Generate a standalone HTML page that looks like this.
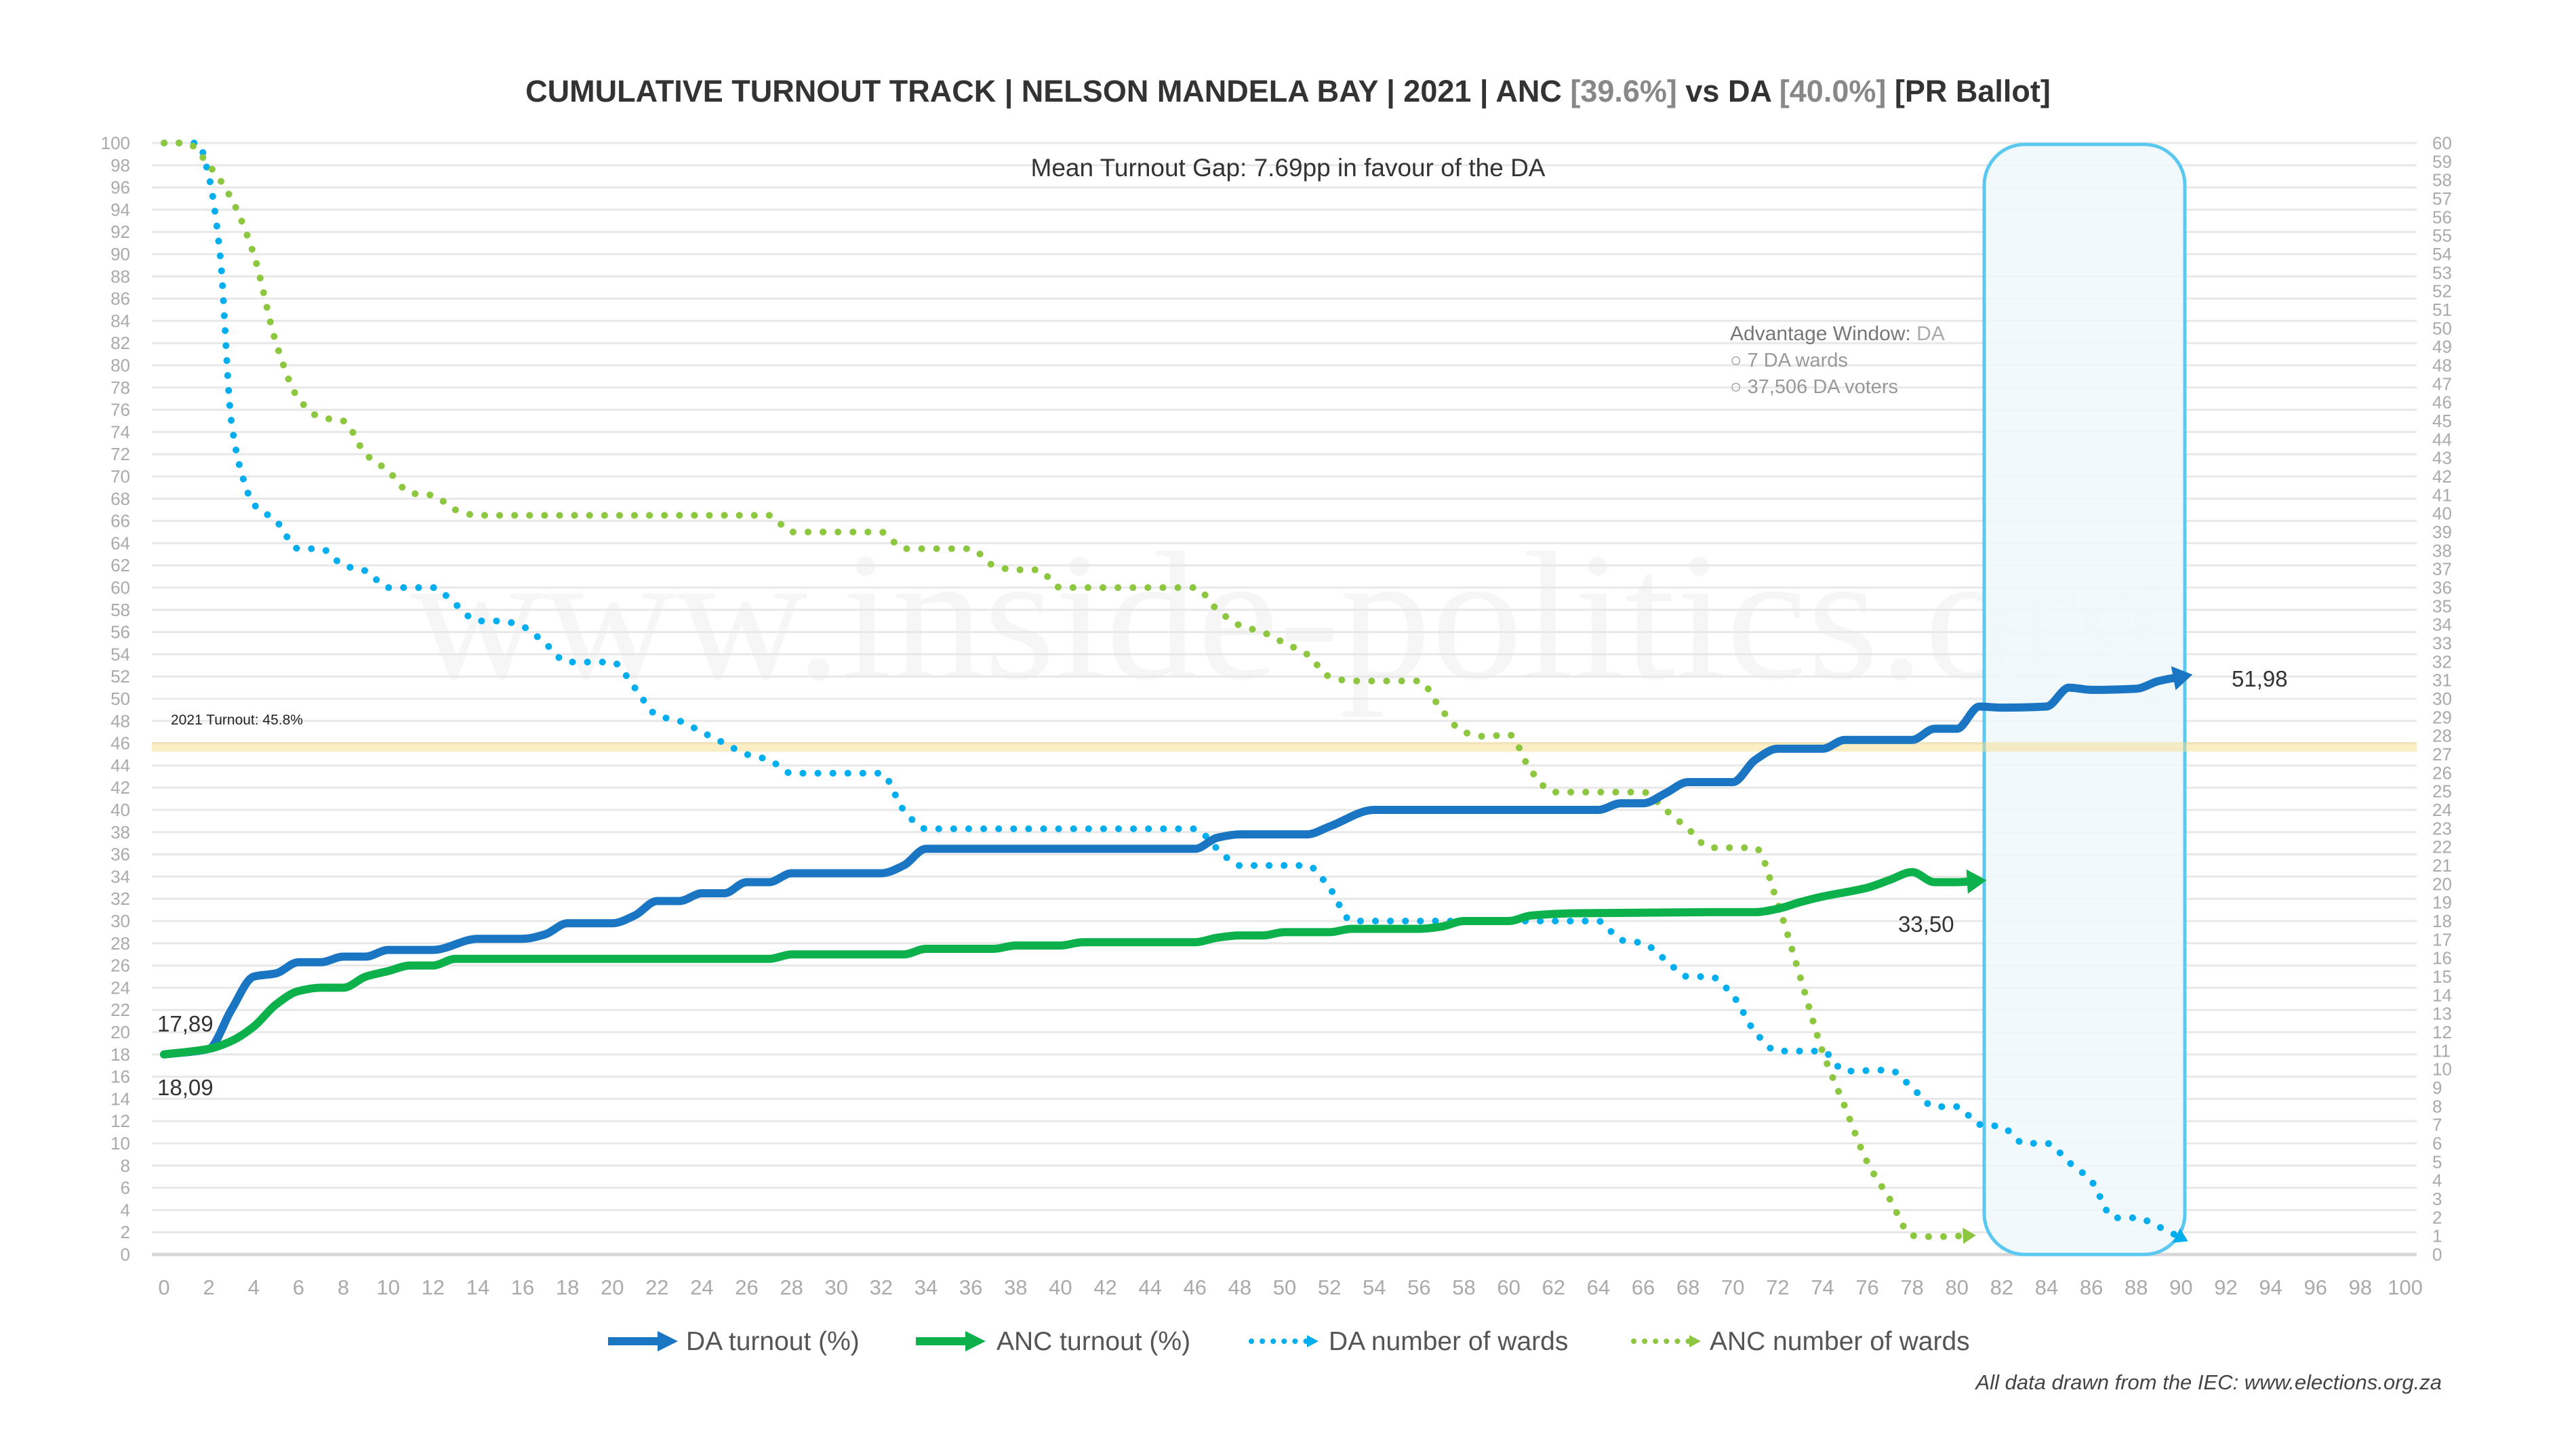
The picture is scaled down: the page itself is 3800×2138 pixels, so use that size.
<!DOCTYPE html>
<html><head><meta charset="utf-8"><style>
html,body{margin:0;padding:0;background:#fff;}
svg{display:block;font-family:"Liberation Sans",sans-serif;}
</style></head><body>
<svg id="s" width="3800" height="2138" viewBox="0 0 3800 2138" xmlns="http://www.w3.org/2000/svg">
<rect width="3800" height="2138" fill="#fff"/>
<text x="1900" y="1000" text-anchor="middle" font-family="Liberation Serif,serif" font-size="270" fill="#f6f6f6">www.inside-politics.org</text>
<g id="grid"></g>
<rect x="2927" y="213" width="296" height="1638" rx="60" fill="#eef8fd" fill-opacity="0.85" stroke="#5bc8f0" stroke-width="5"/>
<rect x="224" y="1095" width="3341" height="14" fill="#f8dc8a" fill-opacity="0.5"/>
<text x="252" y="1069" font-size="21" fill="#222">2021 Turnout: 45.8%</text>
<g id="series"></g>
<text x="1900" y="150" text-anchor="middle" font-size="45" font-weight="bold" fill="#333">CUMULATIVE TURNOUT TRACK | NELSON MANDELA BAY | 2021 | ANC <tspan fill="#888">[39.6%]</tspan> vs DA <tspan fill="#888">[40.0%]</tspan> [PR Ballot]</text>
<text x="1900" y="260" text-anchor="middle" font-size="37" fill="#333">Mean Turnout Gap: 7.69pp in favour of the DA</text>
<text x="2552" y="502" font-size="30" fill="#777">Advantage Window: <tspan fill="#aaa">DA</tspan></text>
<text x="2552" y="541" font-size="29" fill="#999">○   7 DA wards</text>
<text x="2552" y="580" font-size="29" fill="#999">○   37,506 DA voters</text>
<text x="232" y="1522" font-size="33" fill="#333">17,89</text>
<text x="232" y="1616" font-size="33" fill="#333">18,09</text>
<text x="3292" y="1013" font-size="33" fill="#333">51,98</text>
<text x="2800" y="1375" font-size="33" fill="#333">33,50</text>
<g id="legend" font-size="39" fill="#555">
<line x1="897" y1="1979" x2="975" y2="1979" stroke="#1a75c2" stroke-width="12"/><polygon points="970,1964 1000,1979 970,1994" fill="#1a75c2"/>
<text x="1012" y="1992">DA turnout (%)</text>
<line x1="1351" y1="1979" x2="1429" y2="1979" stroke="#0db14b" stroke-width="12"/><polygon points="1424,1964 1454,1979 1424,1994" fill="#0db14b"/>
<text x="1470" y="1992">ANC turnout (%)</text>
<line x1="1846" y1="1979" x2="1930" y2="1979" stroke="#00aeef" stroke-width="8" stroke-dasharray="0.1 16" stroke-linecap="round"/><polygon points="1928,1970 1945,1979 1928,1988" fill="#00aeef"/>
<text x="1960" y="1992">DA number of wards</text>
<line x1="2410" y1="1979" x2="2494" y2="1979" stroke="#8dc63f" stroke-width="8" stroke-dasharray="0.1 16" stroke-linecap="round"/><polygon points="2492,1970 2509,1979 2492,1988" fill="#8dc63f"/>
<text x="2522" y="1992">ANC number of wards</text>
</g>
<text x="3602" y="2050" text-anchor="end" font-size="31" font-style="italic" fill="#444">All data drawn from the IEC: www.elections.org.za</text>
</svg>
<script>
var NS="http://www.w3.org/2000/svg";
function X(u){return 242+u*33.06;}
function Y(v){return 1851-v*16.4;}
function el(t,a,p){var e=document.createElementNS(NS,t);for(var k in a)e.setAttribute(k,a[k]);p.appendChild(e);if(a.text!==undefined){e.textContent=a.text;e.removeAttribute('text');}return e;}
var g=document.getElementById('grid');
for(var v=0;v<=100;v+=2){
 el('line',{x1:224,x2:3565,y1:Y(v),y2:Y(v),stroke:v==0?'#d8d8d8':'#e8e8e8','stroke-width':v==0?5:3},g);
 el('text',{x:192,y:Y(v)+9,'text-anchor':'end','font-size':26,fill:'#aaa',text:String(v)},g);
}
for(var w=0;w<=60;w++){
 el('text',{x:3588,y:Y(w*100/60)+9,'font-size':26,fill:'#aaa',text:String(w)},g);
}
for(var u=0;u<=100;u+=2){
 el('text',{x:X(u),y:1910,'text-anchor':'middle','font-size':31,fill:'#aaa',text:String(u)},g);
}
var S=document.getElementById('series');
function smooth(a){
 var P=[];for(var i=0;i<a.length;i+=2)P.push([X(a[i]),Y(a[i+1])]);
 var n=P.length,d=[],m=[];
 for(var i=0;i<n-1;i++)d.push((P[i+1][1]-P[i][1])/(P[i+1][0]-P[i][0]));
 m[0]=d[0];m[n-1]=d[n-2];
 for(var i=1;i<n-1;i++){
  if(d[i-1]*d[i]<=0)m[i]=0;
  else m[i]=2/(1/d[i-1]+1/d[i]);
 }
 var s='M'+P[0][0].toFixed(1)+','+P[0][1].toFixed(1);
 for(var i=0;i<n-1;i++){
  var dx=(P[i+1][0]-P[i][0])/3;
  s+=' C'+(P[i][0]+dx).toFixed(1)+','+(P[i][1]+m[i]*dx).toFixed(1)+' '+(P[i+1][0]-dx).toFixed(1)+','+(P[i+1][1]-m[i+1]*dx).toFixed(1)+' '+P[i+1][0].toFixed(1)+','+P[i+1][1].toFixed(1);
 }
 return s;
}
function arrowHead(a,col,size){
 var n=a.length;var x1=X(a[n-4]),y1=Y(a[n-3]),x2=X(a[n-2]),y2=Y(a[n-1]);
 var ang=Math.atan2(y2-y1,x2-x1);var L=size*1.6,W=size;
 var tx=x2+Math.cos(ang)*L*0.6,ty=y2+Math.sin(ang)*L*0.6;
 var bx=tx-Math.cos(ang)*L,by=ty-Math.sin(ang)*L;
 var p=[tx,ty,bx-Math.sin(ang)*W,by+Math.cos(ang)*W,bx+Math.sin(ang)*W,by-Math.cos(ang)*W];
 el('polygon',{points:p.join(','),fill:col},S);
}
function line(a,col,dotted){
 var at={d:smooth(a),fill:'none',stroke:col,'stroke-linejoin':'round','stroke-linecap':'round'};
 if(dotted){at['stroke-width']=10;at['stroke-dasharray']='0.1 22';}else{at['stroke-width']=12;}
 el('path',at,S);
 arrowHead(a,col,dotted?12:18);
}
var daW=[0,100,1.5,100,2,97,2.5,90,3,75,3.5,70,4,67.5,5,66,6,63.5,7,63.5,8,62,9,61.5,10,60,12,60,13,58.5,14,57,15,57,16,56.5,17,55,18,53.3,20,53.3,21,51,22,48.5,23,48,24,47,25,46,26,45,27,44.5,28,43.3,32,43.3,33,40,34,38.3,46,38.3,47,36.5,48,35,51,35,52,33,53,30,64,30,65,28.3,66,28,67,26.5,68,25,69,25,70,23.3,71,20,72,18.3,74,18.3,75,16.5,77,16.6,78,15,79,13.3,80,13.3,81,11.7,82,11.5,83,10,84,10,85,8.3,86,6.6,87,3.3,88,3.3,89,2.5,90,1.5];
var ancW=[0,100,1,100,2,98,3,95,4,90,5,82,6,77,7,75.3,8,75,9,72,10,70.5,11,68.5,12,68.3,13,67,14,66.5,27,66.5,28,65,32,65,33,63.5,36,63.5,37,62,38,61.6,39,61.6,40,60,46,60,47,58,48,56.6,49,56,50,55,51,54,52,52,53,51.6,56,51.6,57,49,58,47,59,46.6,60,46.8,61,43.5,62,41.6,66,41.6,67,40,68,38.3,69,36.6,71,36.6,72,31.6,73,25,74,18.3,75,13.3,76,8.3,77,5,78,1.7,79,1.6,80.5,1.7];
var anc=[0,18,2,18.5,3,19.2,4,20.5,5,22.5,6,23.7,7,24,8,24,9,25,10,25.5,11,26,12,26,13,26.6,27,26.6,28,27,33,27,34,27.5,37,27.5,38,27.8,40,27.8,41,28.1,46,28.1,47,28.5,48,28.7,49,28.7,50,29,52,29,53,29.3,56,29.3,57,29.5,58,30,60,30,61,30.5,63,30.7,69,30.8,71,30.8,72,31.1,73,31.7,74,32.2,76,33,77,33.7,78,34.4,79,33.5,80,33.5,80.8,33.6];
var da=[0,18,2,18.5,3,22,4,25,5,25.3,6,26.3,7,26.3,8,26.8,9,26.8,10,27.4,12,27.4,14,28.4,16,28.4,17,28.8,18,29.8,20,29.8,21,30.5,22,31.8,23,31.8,24,32.5,25,32.5,26,33.5,27,33.5,28,34.3,32,34.3,33,35,34,36.5,46,36.5,47,37.5,48,37.8,51,37.8,52,38.5,54,40,64,40,65,40.6,66,40.6,67,41.5,68,42.5,70,42.5,71,44.5,72,45.5,74,45.5,75,46.3,78,46.3,79,47.3,80,47.3,81,49.3,82,49.2,84,49.3,85,51,86,50.8,88,50.9,89,51.6,90,51.98];
line(daW,'#00aeef',true);
line(ancW,'#8dc63f',true);
line(da,'#1a75c2',false);
line(anc,'#0db14b',false);
</script>
</body></html>
